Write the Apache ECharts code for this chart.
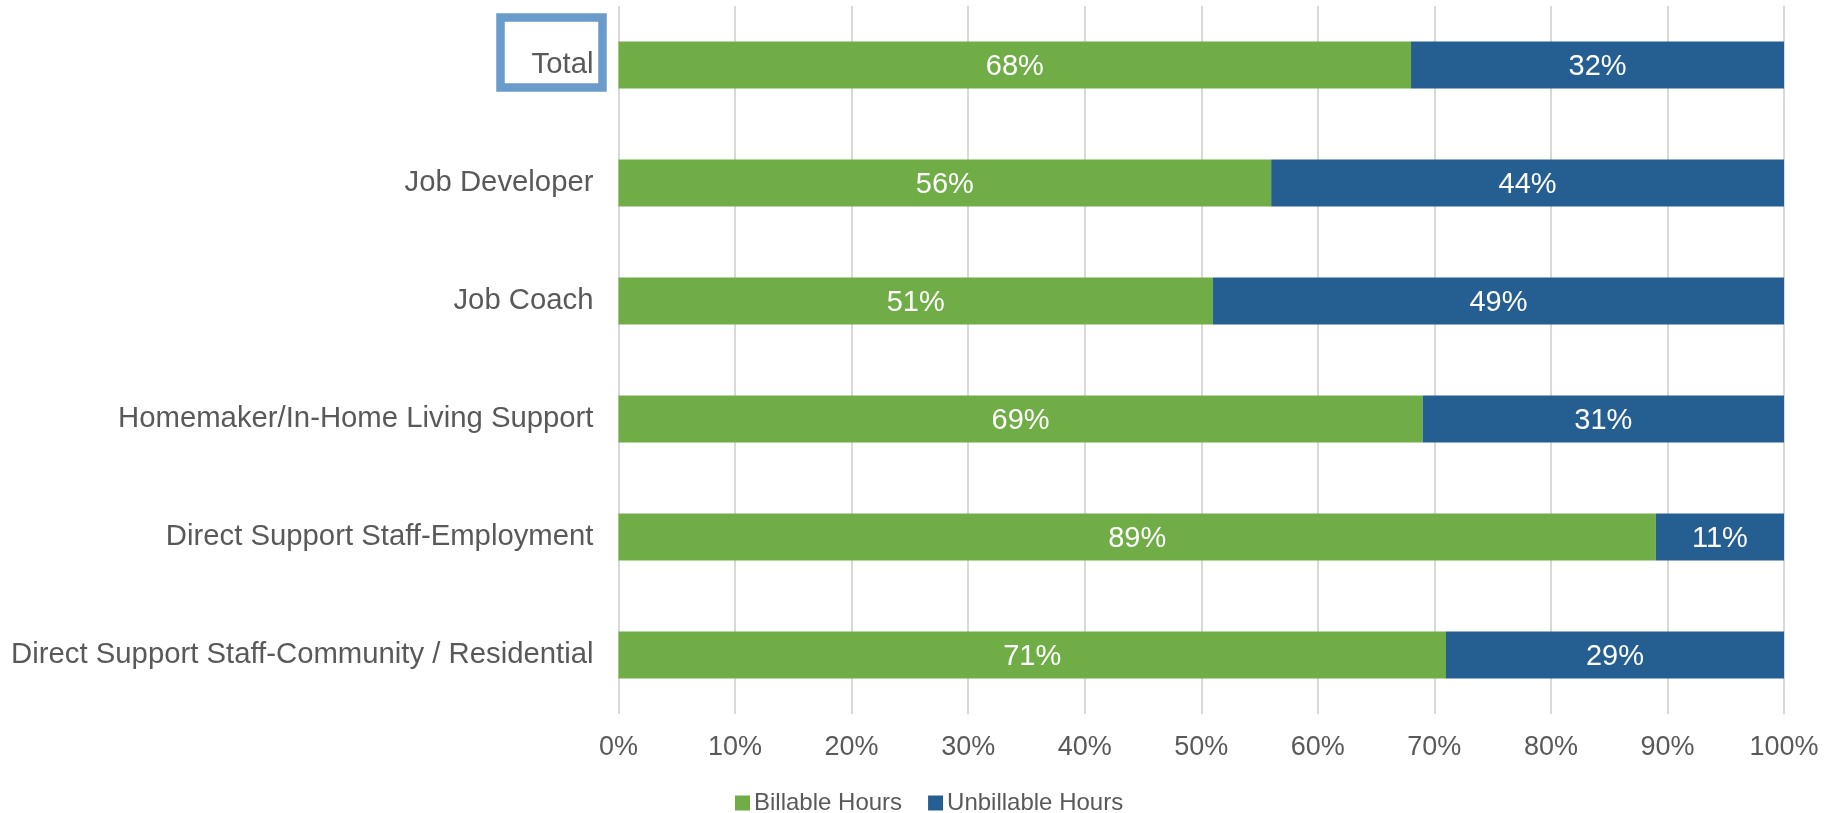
<!DOCTYPE html>
<html>
<head>
<meta charset="utf-8">
<script src="https://cdn.jsdelivr.net/npm/echarts@6/dist/echarts.min.js"></script>
<style>
  html, body { margin: 0; padding: 0; background: #ffffff; }
  #chart { width: 1837px; height: 813px; }
</style>
</head>
<body>
<div id="chart"></div>
<script>
// Share of staff hours that could be billed, by role
const categories = [
  'Total',
  'Job Developer',
  'Job Coach',
  'Homemaker/In-Home Living Support',
  'Direct Support Staff-Employment',
  'Direct Support Staff-Community / Residential'
];
const billable = [68, 56, 51, 69, 89, 71];
const unbillable = [32, 44, 49, 31, 11, 29];
const xTicks = [0, 10, 20, 30, 40, 50, 60, 70, 80, 90, 100];

const GREEN = '#70AD47';
const BLUE = '#255E91';
const TEXT = '#595959';
const FONT = '"Liberation Sans", Arial, sans-serif';

const chart = echarts.init(document.getElementById('chart'));

const barLabel = {
  show: true,
  position: 'inside',
  color: '#ffffff',
  fontSize: 29,
  fontFamily: FONT,
  offset: [0, 2],
  formatter: p => p.value + '%'
};

chart.setOption({
  animation: false,
  textStyle: { fontFamily: FONT },
  grid: { left: 618.5, right: 53, top: 6, bottom: 99, containLabel: false },
  xAxis: {
    type: 'value',
    min: 0,
    max: 100,
    interval: 10,
    axisLine: { show: false },
    axisTick: { show: false },
    splitLine: { show: true, lineStyle: { color: '#d9d9d9', width: 2 } },
    axisLabel: {
      color: TEXT,
      fontSize: 27,
      margin: 20,
      formatter: v => xTicks.includes(v) ? v + '%' : ''
    }
  },
  yAxis: {
    type: 'category',
    inverse: true,
    data: categories,
    axisLine: { show: false },
    axisTick: { show: false },
    axisLabel: { color: TEXT, fontSize: 29.3, margin: 25, padding: [5, 0, 0, 0] }
  },
  legend: {
    left: 730,
    top: 786,
    itemWidth: 15,
    itemHeight: 15,
    itemGap: 26,
    icon: 'rect',
    textStyle: { color: TEXT, fontSize: 24, padding: [0, 0, 0, -1] },
    data: ['Billable Hours', 'Unbillable Hours']
  },
  series: [
    {
      name: 'Billable Hours',
      type: 'bar',
      stack: 'hours',
      barWidth: '40%',
      itemStyle: { color: GREEN },
      label: barLabel,
      data: billable
    },
    {
      name: 'Unbillable Hours',
      type: 'bar',
      stack: 'hours',
      barWidth: '40%',
      itemStyle: { color: BLUE },
      label: barLabel,
      data: unbillable
    }
  ]
});

// Highlight frame around the "Total" row label
const totalY = chart.convertToPixel({ yAxisIndex: 0 }, 'Total');
chart.setOption({
  graphic: [{
    type: 'rect',
    shape: { x: 500.5, y: totalY - 47.5, width: 102, height: 70 },
    style: { fill: 'none', stroke: '#6A9BCB', lineWidth: 8.5 },
    z: 10
  }]
});
</script>
</body>
</html>
